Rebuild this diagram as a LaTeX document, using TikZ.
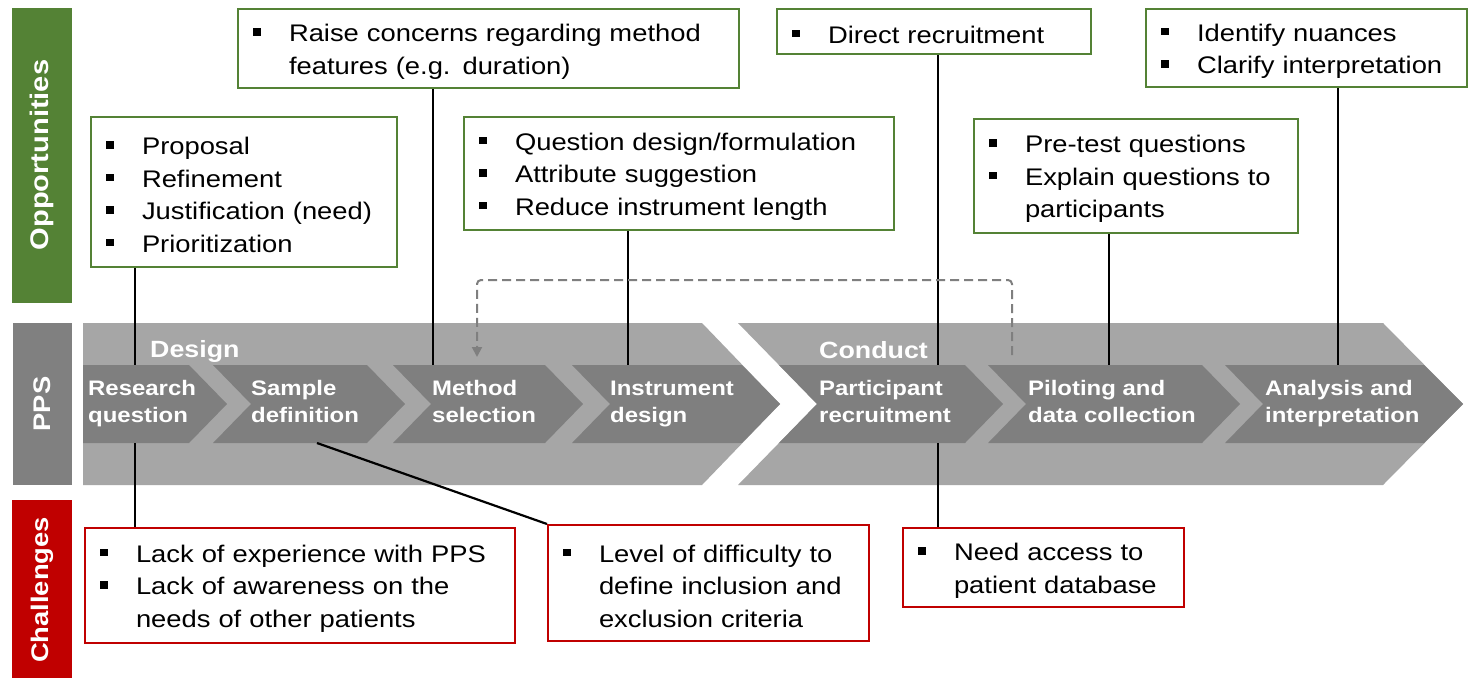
\documentclass[tikz,border=0pt]{standalone}
\usepackage{fontspec}
\setmainfont{Liberation Sans}[FakeStretch=1.14]
\usetikzlibrary{arrows.meta}

\definecolor{oppgreen}{HTML}{548235}
\definecolor{chalred}{HTML}{C00000}
\definecolor{bandgray}{HTML}{A6A6A6}
\definecolor{stepgray}{HTML}{7F7F7F}
\definecolor{sidegray}{HTML}{808080}

% bullet item (with a tall strut) and continuation indent for the text boxes
\newcommand\blt{\rule{0pt}{23.5pt}\makebox[36pt][l]{\rule[6pt]{7.5pt}{7.5pt}}}
\newcommand\cnt{\hspace*{36pt}}
\newcommand\boxfont{\fontsize{24}{32.5}\selectfont}
\newcommand\stepfont{\fontsize{21}{27}\selectfont\bfseries}
\newcommand\phasefont{\fontsize{23.5}{28}\selectfont\bfseries}

\begin{document}
\begin{tikzpicture}[x=1pt,y=-1pt,
  textbox/.style={fill=white, line width=2pt, anchor=north west,
    inner xsep=15pt, inner ysep=0pt, align=left, font=\boxfont},
  oppbox/.style={textbox, draw=oppgreen},
  chalbox/.style={textbox, draw=chalred},
  sidebar/.style={anchor=north west, inner sep=0pt, text=white,
    font=\fontsize{24}{28}\selectfont\bfseries},
  steplabel/.style={anchor=base west, inner sep=0pt, align=left,
    text=white, font=\stepfont},
  phaselabel/.style={anchor=base west, inner sep=0pt, text=white, font=\phasefont},
  conn/.style={line width=2.2pt, black},
  feedback/.style={line width=2pt, stepgray, dash pattern=on 9pt off 5pt,
    rounded corners=4pt, -{Triangle[length=10pt,width=10pt]}}
]
\useasboundingbox (0,0) rectangle (1478,678);
\fill[white] (0,0) rectangle (1478,678);

% side bars
\fill[oppgreen] (12,8) rectangle (72,303);
\node[sidebar, anchor=center, rotate=90, font=\fontsize{25.5}{28}\selectfont\bfseries] (opp) at (42,155) {Opportunities};
\fill[sidegray] (13,323) rectangle (72,485);
\node[sidebar, anchor=center, rotate=90] (pps) at (42,404) {PPS};
\fill[chalred] (12,500) rectangle (72,678);
\node[sidebar, anchor=center, rotate=90] (chal) at (42,590) {Challenges};

% phase bands
\fill[bandgray] (83,323) -- (702,323) -- (780,404) -- (702,485) -- (83,485) -- cycle;
\fill[bandgray] (738,323) -- (1383,323) -- (1463,404) -- (1383,485) -- (738,485) -- (817,404) -- cycle;
\node[phaselabel] (design) at (150,357) {Design};
\node[phaselabel] (conduct) at (819,358) {Conduct};

% process steps
\fill[stepgray] (83,365) -- (189,365) -- (227,404) -- (189,443) -- (83,443) -- cycle;
\fill[stepgray] (213,365) -- (367,365) -- (405,404) -- (367,443) -- (213,443) -- (251,404) -- cycle;
\fill[stepgray] (393,365) -- (545,365) -- (583,404) -- (545,443) -- (393,443) -- (431,404) -- cycle;
\fill[stepgray] (572,365) -- (742,365) -- (780,404) -- (742,443) -- (572,443) -- (610,404) -- cycle;
\fill[stepgray] (779,365) -- (965,365) -- (1003,404) -- (965,443) -- (779,443) -- (817,404) -- cycle;
\fill[stepgray] (988,365) -- (1202,365) -- (1240,404) -- (1202,443) -- (988,443) -- (1026,404) -- cycle;
\fill[stepgray] (1225,365) -- (1424,365) -- (1463,404) -- (1424,443) -- (1225,443) -- (1263,404) -- cycle;

% step names (anchored on the baseline of the second line)
\node[steplabel] (rq) at (88,422) {Research\\question};
\node[steplabel] (sd) at (251,422) {Sample\\definition};
\node[steplabel] (ms) at (432,422) {Method\\selection};
\node[steplabel] (id) at (610,422) {Instrument\\design};
\node[steplabel] (pr) at (819,422) {Participant\\recruitment};
\node[steplabel] (pd) at (1028,422) {Piloting and\\data collection};
\node[steplabel] (ai) at (1265,422) {Analysis and\\interpretation};

% attachment points on the step edges
\coordinate (rq-top) at (135,365);  \coordinate (rq-bot) at (135,443);
\coordinate (sd-bot) at (317,443);
\coordinate (ms-top) at (433,365);
\coordinate (id-top) at (628,365);
\coordinate (pr-top) at (938,365);  \coordinate (pr-bot) at (938,443);
\coordinate (pd-top) at (1109,365);
\coordinate (ai-top) at (1338,365);
\coordinate (pd-fb) at (1012,355);
\coordinate (ms-fb) at (477,357);

% opportunities
\node[oppbox, minimum width=306pt, minimum height=150pt, text width=276pt] (b1) at (90,116)
  {\blt Proposal\\ \blt Refinement\\ \blt Justification (need)\\ \blt Prioritization};
\node[oppbox, minimum width=501pt, minimum height=79pt, text width=471pt] (b2) at (237,8)
  {\blt Raise concerns regarding method\\ \cnt features (e.g. duration)};
\node[oppbox, minimum width=430pt, minimum height=113pt, text width=400pt] (b3) at (463,116)
  {\blt Question design/formulation\\ \blt Attribute suggestion\\ \blt Reduce instrument length};
\node[oppbox, minimum width=314pt, minimum height=45pt, text width=284pt] (b4) at (776,8)
  {\blt Direct recruitment};
\node[oppbox, minimum width=324pt, minimum height=114pt, text width=294pt] (b5) at (973,118)
  {\blt Pre-test questions\\ \blt Explain questions to\\ \cnt participants};
\node[oppbox, minimum width=321pt, minimum height=78pt, text width=291pt] (b6) at (1145,8)
  {\blt Identify nuances\\ \blt Clarify interpretation};

% challenges
\node[chalbox, minimum width=430pt, minimum height=115pt, text width=400pt] (c1) at (84,527)
  {\blt Lack of experience with PPS\\ \blt Lack of awareness on the\\ \cnt needs of other patients};
\node[chalbox, minimum width=321pt, minimum height=116pt, text width=291pt] (c2) at (547,524)
  {\blt Level of difficulty to\\ \cnt define inclusion and\\ \cnt exclusion criteria};
\node[chalbox, minimum width=281pt, minimum height=79pt, text width=251pt] (c3) at (902,527)
  {\blt Need access to\\ \cnt patient database};

% connectors
\draw[conn] (b1.south -| rq-top) -- (rq-top);
\draw[conn] (b2.south -| ms-top) -- (ms-top);
\draw[conn] (b3.south -| id-top) -- (id-top);
\draw[conn] (b4.south -| pr-top) -- (pr-top);
\draw[conn] (b5.south -| pd-top) -- (pd-top);
\draw[conn] (b6.south -| ai-top) -- (ai-top);
\draw[conn] (rq-bot) -- (c1.north -| rq-bot);
\draw[conn] (sd-bot) -- (c2.north west);
\draw[conn] (pr-bot) -- (c3.north -| pr-bot);

% feedback from piloting to method selection
\draw[feedback] (pd-fb) -- (pd-fb |- 0,280) -- (ms-fb |- 0,280) -- (ms-fb);
\end{tikzpicture}
\end{document}
